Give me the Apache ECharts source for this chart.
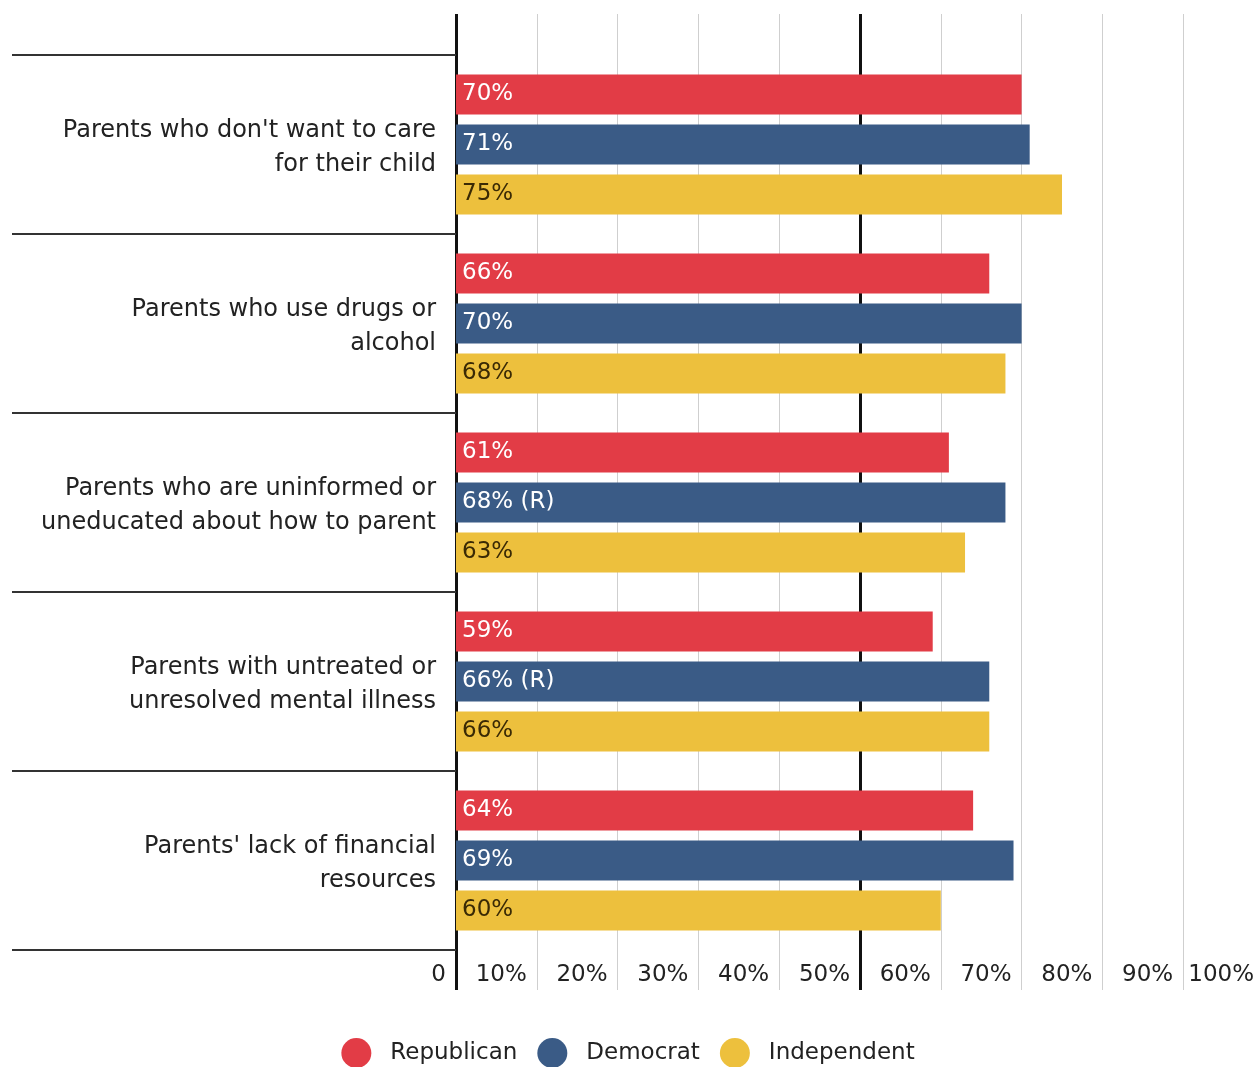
<!DOCTYPE html>
<html><head><meta charset="utf-8">
<script src="https://cdn.jsdelivr.net/npm/echarts@6/dist/echarts.min.js"></script>
<style>html,body{margin:0;padding:0;background:#fff}#c{width:1256px;height:1067px}</style>
</head><body><div id="c"></div>
<script>
const categories = [
  "Parents who don't want to care\nfor their child",
  "Parents who use drugs or\nalcohol",
  "Parents who are uninformed or\nuneducated about how to parent",
  "Parents with untreated or\nunresolved mental illness",
  "Parents' lack of financial\nresources"
];
const seriesNames = ['Republican', 'Democrat', 'Independent'];
const republican = [70, 66, 61, 59, 64];
const democrat = [71, 70, 68, 66, 69];
const independent = [75, 68, 63, 66, 60];
const republicanNotes = ['', '', '', '', ''];
const democratNotes = ['', '', ' (R)', ' (R)', ''];
const independentNotes = ['', '', '', '', ''];
const tickLabels = ['0', '10%', '20%', '30%', '40%', '50%', '60%', '70%', '80%', '90%', '100%'];

const colors = ['#E23C46', '#3A5B86', '#EDC03D'];
const labelColors = ['#ffffff', '#ffffff', '#3a2a05'];
const FONT = 'DejaVu Sans';

const chart = echarts.init(document.getElementById('c'), null, { renderer: 'canvas' });

function barSeries(i, data, notes) {
  return {
    name: seriesNames[i],
    type: 'bar',
    xAxisIndex: 2,
    yAxisIndex: 1,
    data: data,
    barWidth: 40,
    barGap: '25%',
    itemStyle: { color: colors[i] },
    label: {
      show: true,
      position: 'insideLeft',
      distance: 6,
      color: labelColors[i],
      fontFamily: FONT,
      fontSize: 23,
      formatter: p => p.value + '%' + notes[p.dataIndex]
    }
  };
}

chart.setOption({
  animation: false,
  backgroundColor: '#ffffff',
  textStyle: { fontFamily: FONT },
  grid: [
    { left: 456, top: 14, right: -8, height: 976, outerBoundsMode: 'none', containLabel: false },
    { left: 456, top: 55, right: -8, height: 895, outerBoundsMode: 'none', containLabel: false },
    { left: 456, top: 58, right: -8, height: 895, outerBoundsMode: 'none', containLabel: false }
  ],
  xAxis: [
    {
      gridIndex: 0, type: 'value', min: 0, max: 100, interval: 10, position: 'bottom',
      axisLine: { show: false }, axisTick: { show: false },
      splitLine: { show: true, lineStyle: { color: '#cfcfcf', width: 1 } },
      axisLabel: {
        inside: true, margin: 3, align: 'right', padding: [0, 10, 0, 0],
        fontFamily: FONT, fontSize: 23, color: '#222',
        showMinLabel: true, showMaxLabel: true,
        formatter: v => tickLabels[Math.round(v / 10)]
      }
    },
    {
      gridIndex: 0, type: 'value', min: 0, max: 100, interval: 50, position: 'top',
      axisLine: { show: false }, axisTick: { show: false }, axisLabel: { show: false },
      splitLine: { show: true, lineStyle: { color: '#111', width: 3 } }
    },
    { gridIndex: 1, type: 'value', min: 0, max: 100, interval: 10, show: false },
    { gridIndex: 2, type: 'value', min: 0, max: 100, interval: 10, show: false }
  ],
  yAxis: [
    { gridIndex: 0, type: 'value', min: 0, max: 1, show: false },
    {
      gridIndex: 1, type: 'category', data: categories, inverse: true,
      axisLine: { show: false },
      axisTick: { show: true, length: 444, interval: 0, lineStyle: { color: '#333', width: 2 } },
      axisLabel: { show: false }
    },
    {
      gridIndex: 2, type: 'category', data: categories, inverse: true,
      axisLine: { show: false }, axisTick: { show: false },
      axisLabel: {
        margin: 20, align: 'right', fontFamily: FONT, fontSize: 24, color: '#222', lineHeight: 34,
        interval: 0
      }
    }
  ],
  legend: {
    data: seriesNames,
    top: 1033,
    left: 'center',
    icon: 'circle',
    itemWidth: 30,
    itemHeight: 30,
    itemGap: 20,
    textStyle: { fontFamily: FONT, fontSize: 23, color: '#222', padding: [0, 0, 0, 14] }
  },
  series: [
    barSeries(0, republican, republicanNotes),
    barSeries(1, democrat, democratNotes),
    barSeries(2, independent, independentNotes)
  ]
});
</script>
</body></html>
